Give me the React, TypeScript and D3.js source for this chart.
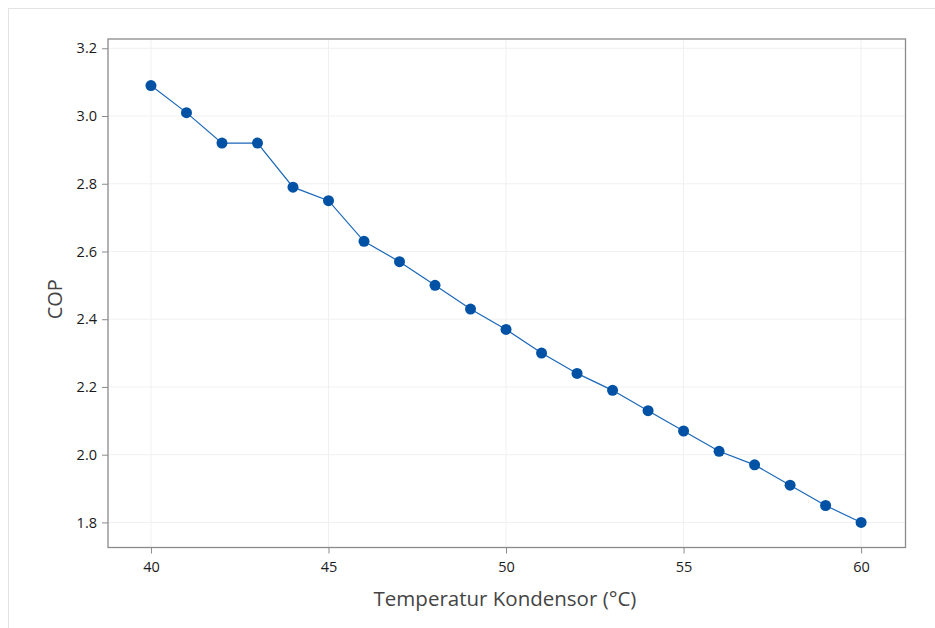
import React, { useEffect, useRef } from "react";
import * as d3 from "d3";

// condenser temperature (°C) and COP
const temps = [40, 41, 42, 43, 44, 45, 46, 47, 48, 49, 50, 51, 52, 53, 54, 55, 56, 57, 58, 59, 60];
const cop = [3.09, 3.01, 2.92, 2.92, 2.79, 2.75, 2.63, 2.57, 2.5, 2.43, 2.37, 2.3, 2.24, 2.19, 2.13, 2.07, 2.01, 1.97, 1.91, 1.85, 1.8];
const xTicks = [40, 45, 50, 55, 60];
const yTicks = [1.8, 2.0, 2.2, 2.4, 2.6, 2.8, 3.0, 3.2];

const W = 935;
const H = 628;

const App = () => {
  const ref = useRef<SVGSVGElement>(null);

  useEffect(() => {
    const svg = d3.select(ref.current);
    svg.selectAll("*").remove();

    const left = 108, right = 905.5, top = 39, bottom = 547.5;
    const font = "'Open Sans', 'Noto Sans', sans-serif";

    // outer light frame
    svg
      .append("rect")
      .attr("x", 8.5)
      .attr("y", 8.5)
      .attr("width", 1000)
      .attr("height", 1000)
      .attr("fill", "#fff")
      .attr("stroke", "#e3e3e3");

    const x = d3.scaleLinear().domain([38.79, 61.25]).range([left, right]);
    const y = d3.scaleLinear().domain([1.726, 3.2274]).range([bottom, top]);

    // gridlines
    const grid = svg.append("g");
    grid
      .selectAll(".gx")
      .data(xTicks)
      .enter()
      .append("line")
      .attr("x1", (d) => x(d))
      .attr("x2", (d) => x(d))
      .attr("y1", top)
      .attr("y2", bottom)
      .attr("stroke", "#f0f0f0");
    grid
      .selectAll(".gy")
      .data(yTicks)
      .enter()
      .append("line")
      .attr("x1", left)
      .attr("x2", right)
      .attr("y1", (d) => y(d))
      .attr("y2", (d) => y(d))
      .attr("stroke", "#f0f0f0");

    // plot frame
    svg
      .append("rect")
      .attr("x", left)
      .attr("y", top)
      .attr("width", right - left)
      .attr("height", bottom - top)
      .attr("fill", "none")
      .attr("stroke", "#8a8a8a")
      .attr("stroke-width", 1.3);

    // axes
    const xAxis = svg
      .append("g")
      .attr("transform", `translate(0,${bottom})`)
      .call(d3.axisBottom(x).tickValues(xTicks).tickFormat(d3.format("d")).tickSize(6).tickPadding(8));
    const yAxis = svg
      .append("g")
      .attr("transform", `translate(${left},0)`)
      .call(d3.axisLeft(y).tickValues(yTicks).tickFormat(d3.format(".1f")).tickSize(6).tickPadding(5));

    [xAxis, yAxis].forEach((a) => {
      a.select(".domain").remove();
      a.selectAll("line").attr("stroke", "#8a8a8a");
      a.selectAll("text")
        .attr("fill", "#1a1a1a")
        .style("font-family", font)
        .style("font-size", "14.5px")
        .style("font-weight", 500);
    });

    // line + points
    const pts = temps.map((t, i) => [t, cop[i]] as [number, number]);
    svg
      .append("path")
      .datum(pts)
      .attr("fill", "none")
      .attr("stroke", "#1a66b8")
      .attr("stroke-width", 1.2)
      .attr("d", d3.line<[number, number]>().x((d) => x(d[0])).y((d) => y(d[1])));

    svg
      .selectAll(".dot")
      .data(pts)
      .enter()
      .append("circle")
      .attr("cx", (d) => x(d[0]))
      .attr("cy", (d) => y(d[1]))
      .attr("r", 5.5)
      .attr("fill", "#0152a5");

    // axis titles
    svg
      .append("text")
      .attr("x", 505)
      .attr("y", 606)
      .attr("text-anchor", "middle")
      .attr("fill", "#444")
      .style("font-family", font)
      .style("font-size", "20.5px")
      .text("Temperatur Kondensor (°C)");

    svg
      .append("text")
      .attr("transform", `translate(62,${(top + bottom) / 2 + 6}) rotate(-90)`)
      .attr("text-anchor", "middle")
      .attr("fill", "#444")
      .style("font-family", font)
      .style("font-size", "20px")
      .text("COP");
  }, []);

  return (
    <svg
      ref={ref}
      width={W}
      height={H}
      style={{ position: "absolute", left: 0, top: 0, background: "#fff" }}
    />
  );
};

export default App;
